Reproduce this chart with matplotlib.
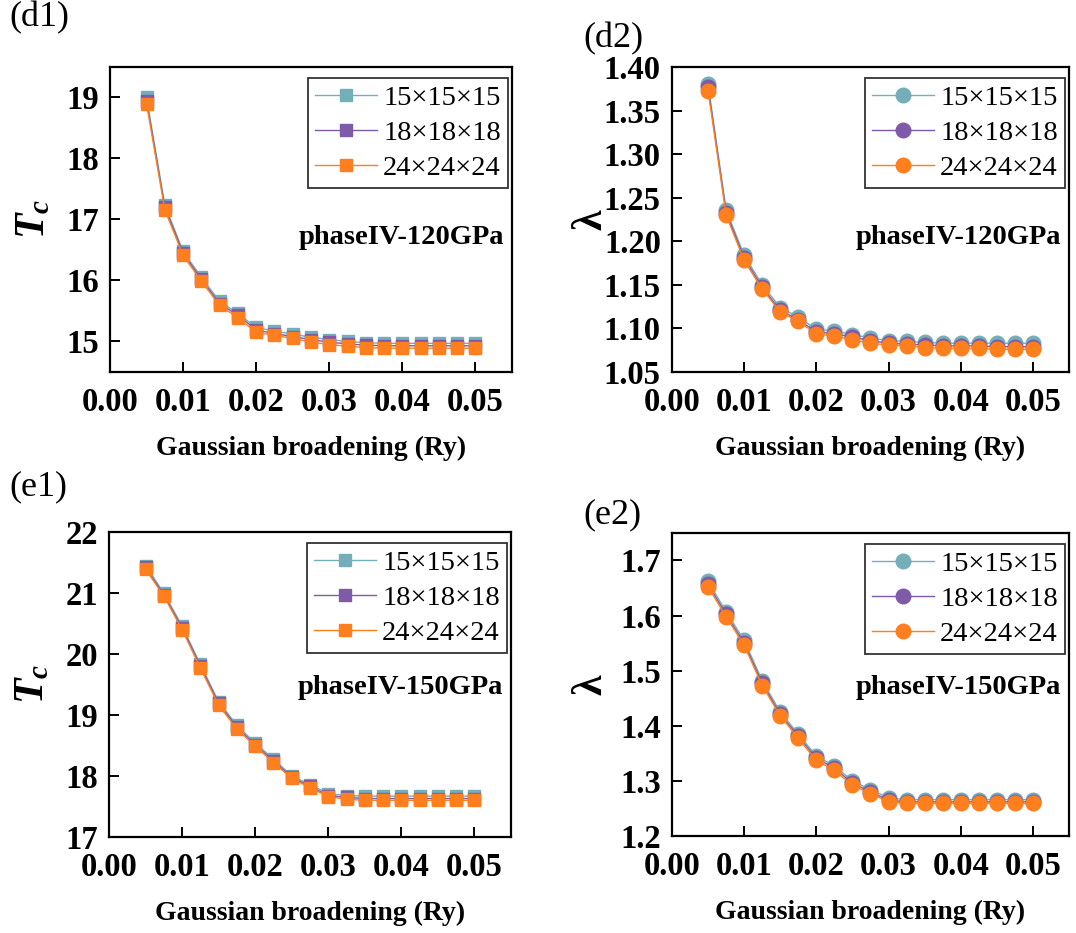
import matplotlib
matplotlib.use("Agg")
import matplotlib.pyplot as plt
import numpy as np

plt.rcParams["font.family"] = ["Liberation Serif", "DejaVu Serif"]
plt.rcParams["mathtext.fontset"] = "custom"
plt.rcParams["mathtext.rm"] = "Liberation Serif:bold"
plt.rcParams["mathtext.it"] = "Liberation Serif:italic:bold"
plt.rcParams["mathtext.bf"] = "Liberation Serif:bold"

# Gaussian broadening (Ry)
broadening = [0.005, 0.0075, 0.01, 0.0125, 0.015, 0.0175, 0.02, 0.0225, 0.025, 0.0275,
              0.03, 0.0325, 0.035, 0.0375, 0.04, 0.0425, 0.045, 0.0475, 0.05]
grids = ["15×15×15", "18×18×18", "24×24×24"]

# phase IV, 120 GPa
tc_120_k15 = [19.00, 17.24, 16.48, 16.05, 15.66, 15.46, 15.23, 15.17, 15.12, 15.07,
              15.03, 15.00, 14.98, 14.97, 14.97, 14.97, 14.97, 14.97, 14.97]
tc_120_k18 = [18.95, 17.20, 16.45, 16.02, 15.62, 15.43, 15.19, 15.13, 15.08, 15.03,
              14.99, 14.96, 14.94, 14.93, 14.93, 14.93, 14.93, 14.93, 14.93]
tc_120_k24 = [18.90, 17.16, 16.41, 15.99, 15.59, 15.39, 15.15, 15.10, 15.05, 14.99,
              14.95, 14.92, 14.90, 14.89, 14.89, 14.89, 14.89, 14.89, 14.89]
lam_120_k15 = [1.380, 1.236, 1.184, 1.150, 1.124, 1.113, 1.099, 1.097, 1.093, 1.089,
               1.086, 1.085, 1.084, 1.083, 1.083, 1.083, 1.083, 1.083, 1.083]
lam_120_k18 = [1.377, 1.233, 1.181, 1.147, 1.121, 1.110, 1.096, 1.094, 1.090, 1.086,
               1.083, 1.082, 1.081, 1.080, 1.080, 1.080, 1.079, 1.079, 1.079]
lam_120_k24 = [1.373, 1.230, 1.178, 1.145, 1.119, 1.108, 1.094, 1.091, 1.087, 1.083,
               1.081, 1.080, 1.078, 1.077, 1.077, 1.077, 1.076, 1.076, 1.076]

# phase IV, 150 GPa
tc_150_k15 = [21.45, 21.00, 20.46, 19.83, 19.22, 18.83, 18.54, 18.28, 18.00, 17.86,
              17.71, 17.68, 17.67, 17.67, 17.67, 17.67, 17.67, 17.67, 17.67]
tc_150_k18 = [21.42, 20.97, 20.43, 19.80, 19.19, 18.80, 18.51, 18.25, 17.98, 17.83,
              17.68, 17.65, 17.63, 17.63, 17.63, 17.63, 17.63, 17.63, 17.63]
tc_150_k24 = [21.39, 20.95, 20.40, 19.77, 19.16, 18.77, 18.49, 18.22, 17.96, 17.81,
              17.66, 17.62, 17.60, 17.60, 17.60, 17.60, 17.60, 17.60, 17.60]
lam_150_k15 = [1.662, 1.607, 1.555, 1.482, 1.425, 1.385, 1.345, 1.327, 1.300, 1.284,
               1.269, 1.266, 1.266, 1.266, 1.266, 1.266, 1.266, 1.266, 1.266]
lam_150_k18 = [1.657, 1.602, 1.550, 1.477, 1.421, 1.381, 1.341, 1.323, 1.296, 1.280,
               1.265, 1.262, 1.262, 1.262, 1.262, 1.262, 1.262, 1.262, 1.262]
lam_150_k24 = [1.652, 1.598, 1.546, 1.473, 1.418, 1.377, 1.337, 1.319, 1.292, 1.277,
               1.262, 1.259, 1.259, 1.259, 1.259, 1.259, 1.259, 1.259, 1.259]

colors = ["#74AEB9", "#7E5AA8", "#FF7F1E"]

panels = [
    # tag, rect, series, marker, ylabel, ylim, yticks, yfmt, note
    ("(d1)", [0.1022, 0.6013, 0.3736, 0.3269], [tc_120_k15, tc_120_k18, tc_120_k24],
     "s", r"$T_c$", (14.5, 19.5), [15, 16, 17, 18, 19], "{:.0f}", "phaseIV-120GPa"),
    ("(d2)", [0.6245, 0.6013, 0.3690, 0.3269], [lam_120_k15, lam_120_k18, lam_120_k24],
     "o", "λ", (1.05, 1.40), [1.05, 1.10, 1.15, 1.20, 1.25, 1.30, 1.35, 1.40], "{:.2f}",
     "phaseIV-120GPa"),
    ("(e1)", [0.1013, 0.1029, 0.3736, 0.3269], [tc_150_k15, tc_150_k18, tc_150_k24],
     "s", r"$T_c$", (17.0, 22.0), [17, 18, 19, 20, 21, 22], "{:.0f}", "phaseIV-150GPa"),
    ("(e2)", [0.6245, 0.1040, 0.3690, 0.3248], [lam_150_k15, lam_150_k18, lam_150_k24],
     "o", "λ", (1.2, 1.75), [1.2, 1.3, 1.4, 1.5, 1.6, 1.7], "{:.1f}", "phaseIV-150GPa"),
]

fig = plt.figure(figsize=(10.76, 9.33), dpi=100)

for tag, rect, series, marker, ylabel, ylim, yticks, yfmt, note in panels:
    ax = fig.add_axes(rect)
    ms = 8.8 if marker == "s" else 10.5
    for vals, label, c in zip(series, grids, colors):
        ax.plot(broadening, vals, marker=marker, ms=ms, color=c, mec=c, lw=1.0, label=label)

    ax.set_xlim(0, 0.055)
    ax.set_ylim(*ylim)
    ax.set_xticks([0.0, 0.01, 0.02, 0.03, 0.04, 0.05])
    ax.set_xticklabels([f"{t:.2f}" for t in ax.get_xticks()])
    ax.set_yticks(yticks)
    ax.set_yticklabels([yfmt.format(t) for t in yticks])
    ax.tick_params(direction="in", length=7, width=1.4, labelsize=23.5,
                   top=False, right=False)
    ax.tick_params(axis="x", pad=11)
    ax.tick_params(axis="y", pad=8)
    for lab in ax.get_xticklabels() + ax.get_yticklabels():
        lab.set_fontweight("bold")
    for sp in ax.spines.values():
        sp.set_linewidth(1.6)

    ax.set_xlabel("Gaussian broadening (Ry)", fontsize=20, fontweight="bold")
    ax.xaxis.set_label_coords(0.5, -0.21)
    ax.set_ylabel(ylabel, fontsize=30, fontweight="bold")
    ax.yaxis.set_label_coords(-0.14 if marker == "s" else -0.155, 0.5)

    leg = ax.legend(loc="upper right", bbox_to_anchor=(0.99, 0.965), fontsize=20.5,
                    handlelength=2.2, handletextpad=0.2, labelspacing=0.33,
                    borderpad=0.25, borderaxespad=0, fancybox=False, frameon=True)
    leg.get_frame().set_edgecolor("black")
    leg.get_frame().set_linewidth(1.3)

    ax.text(0.98, 0.44 if tag.startswith("(d") else 0.49, note, transform=ax.transAxes,
            ha="right", va="center", fontsize=20.5, fontweight="bold")

    x0 = rect[0]
    tag_x = 0.009 if x0 < 0.5 else 0.542
    tag_y = {"(d1)": 0.981, "(d2)": 0.958, "(e1)": 0.478, "(e2)": 0.448}[tag]
    fig.text(tag_x, tag_y, tag, fontsize=26, ha="left", va="center")

fig.savefig("out.png", dpi=100)
